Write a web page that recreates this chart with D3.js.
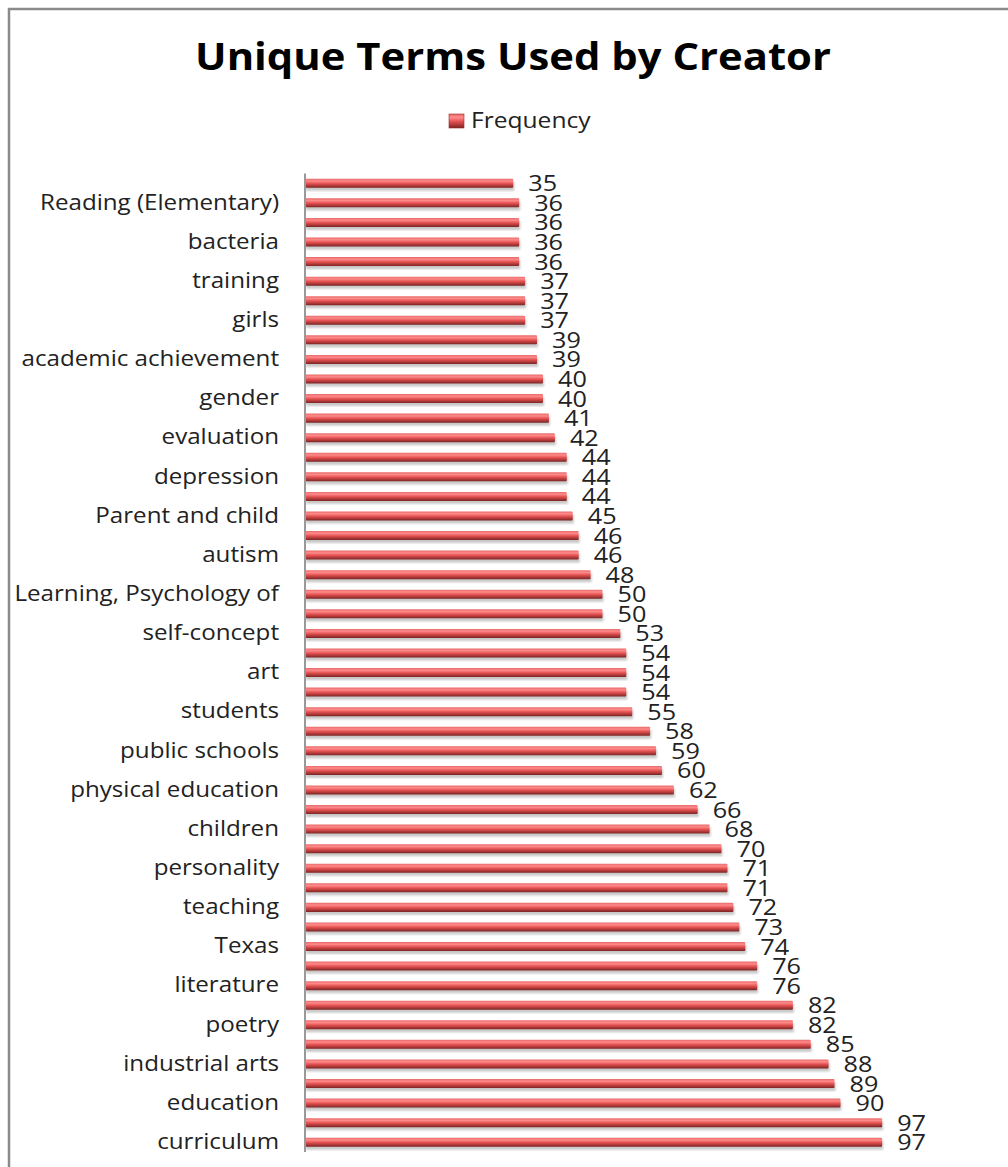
<!DOCTYPE html>
<html>
<head>
<meta charset="utf-8">
<script src="https://cdn.jsdelivr.net/npm/d3@7"></script>
<style>
  body { margin: 0; background: #fff; }
  svg text { font-family: "Open Sans", "DejaVu Sans", sans-serif; }
</style>
</head>
<body>
<svg id="chart" width="1008" height="1167"></svg>
<script>
// frequency per term, top to bottom
const values = [35, 36, 36, 36, 36, 37, 37, 37, 39, 39, 40, 40, 41, 42, 44, 44, 44, 45, 46, 46,
  48, 50, 50, 53, 54, 54, 54, 55, 58, 59, 60, 62, 66, 68, 70, 71, 71, 72, 73, 74,
  76, 76, 82, 82, 85, 88, 89, 90, 97, 97];

// only every second category label is shown in the original
const terms = ["", "Reading (Elementary)", "", "bacteria", "", "training", "", "girls",
  "", "academic achievement", "", "gender", "", "evaluation", "", "depression",
  "", "Parent and child", "", "autism", "", "Learning, Psychology of", "", "self-concept",
  "", "art", "", "students", "", "public schools", "", "physical education",
  "", "children", "", "personality", "", "teaching", "", "Texas",
  "", "literature", "", "poetry", "", "industrial arts", "", "education", "", "curriculum"];

const seriesName = "Frequency";
const title = "Unique Terms Used by Creator";

const svg = d3.select("#chart");

// the original picture is a bit wider than tall, so text is stretched sideways
function stretch(sel, k) {
  sel.each(function () {
    const w = this.getComputedTextLength();
    if (w > 0) {
      d3.select(this)
        .attr("textLength", w * k)
        .attr("lengthAdjust", "spacingAndGlyphs");
    }
  });
}

// outer frame (only top + left show in the crop)
svg.append("path")
  .attr("d", "M9,1167 V9 H1008")
  .attr("fill", "none")
  .attr("stroke", "#8a8a8a")
  .attr("stroke-width", 2.5);

const defs = svg.append("defs");
const grad = defs.append("linearGradient")
  .attr("id", "barGrad")
  .attr("x1", 0).attr("y1", 0).attr("x2", 0).attr("y2", 1);
grad.append("stop").attr("offset", "0%").attr("stop-color", "#e86a6a");
grad.append("stop").attr("offset", "25%").attr("stop-color", "#ff8a8a");
grad.append("stop").attr("offset", "55%").attr("stop-color", "#e24f4f");
grad.append("stop").attr("offset", "100%").attr("stop-color", "#7c2424");

defs.append("filter").attr("id", "blur")
  .append("feGaussianBlur").attr("stdDeviation", 1.2);

const plotLeft = 305, plotTop = 173.5, plotBottom = 1152;

const x = d3.scaleLinear()
  .domain([0, 100])
  .range([plotLeft, plotLeft + 595]);

const y = d3.scaleBand()
  .domain(d3.range(values.length))
  .range([plotTop, plotBottom])
  .paddingInner(0.54)
  .paddingOuter(0.27);

// TITLE
svg.append("text")
  .attr("x", 513).attr("y", 70)
  .attr("text-anchor", "middle")
  .attr("font-size", "38px")
  .attr("font-weight", "bold")
  .attr("fill", "#000")
  .text(title)
  .call(stretch, 1.1);

// LEGEND
const legend = svg.append("g").attr("transform", "translate(449,114)");
legend.append("rect")
  .attr("width", 15).attr("height", 14)
  .attr("fill", "url(#barGrad)")
  .attr("stroke", "#9b2b2b").attr("stroke-width", 0.6);
legend.append("text")
  .attr("x", 22).attr("y", 14)
  .attr("font-size", "21px")
  .attr("fill", "#222")
  .text(seriesName)
  .call(stretch, 1.17);

// BAR SHADOWS
svg.append("g")
  .selectAll("rect")
  .data(values)
  .join("rect")
  .attr("x", x(0) + 1)
  .attr("y", (d, i) => y(i) + 3)
  .attr("width", d => x(d) - x(0))
  .attr("height", y.bandwidth())
  .attr("fill", "#9a9a9a")
  .attr("opacity", 0.55)
  .attr("filter", "url(#blur)");

// BARS
svg.append("g")
  .selectAll("rect")
  .data(values)
  .join("rect")
  .attr("x", x(0))
  .attr("y", (d, i) => y(i))
  .attr("width", d => x(d) - x(0))
  .attr("height", y.bandwidth())
  .attr("rx", 1)
  .attr("fill", "url(#barGrad)");

// VALUE LABELS
svg.append("g")
  .selectAll("text")
  .data(values)
  .join("text")
  .attr("x", d => x(d) + 15)
  .attr("y", (d, i) => y(i) + y.bandwidth() / 2 + 8)
  .attr("font-size", "21px")
  .attr("fill", "#222")
  .text(d => d)
  .call(stretch, 1.2);

// CATEGORY AXIS
const yAxis = d3.axisLeft(y)
  .tickSize(0)
  .tickPadding(26)
  .tickFormat(i => terms[i]);

const axisG = svg.append("g")
  .attr("transform", `translate(${plotLeft},0)`)
  .call(yAxis);
axisG.select(".domain")
  .attr("stroke", "#999")
  .attr("stroke-width", 2)
  .attr("d", `M0,${plotTop}V${plotBottom}`);
axisG.selectAll("text")
  .attr("font-size", "21px")
  .attr("fill", "#222")
  .attr("font-family", "\"Open Sans\", sans-serif")
  .call(stretch, 1.15);
</script>
</body>
</html>
